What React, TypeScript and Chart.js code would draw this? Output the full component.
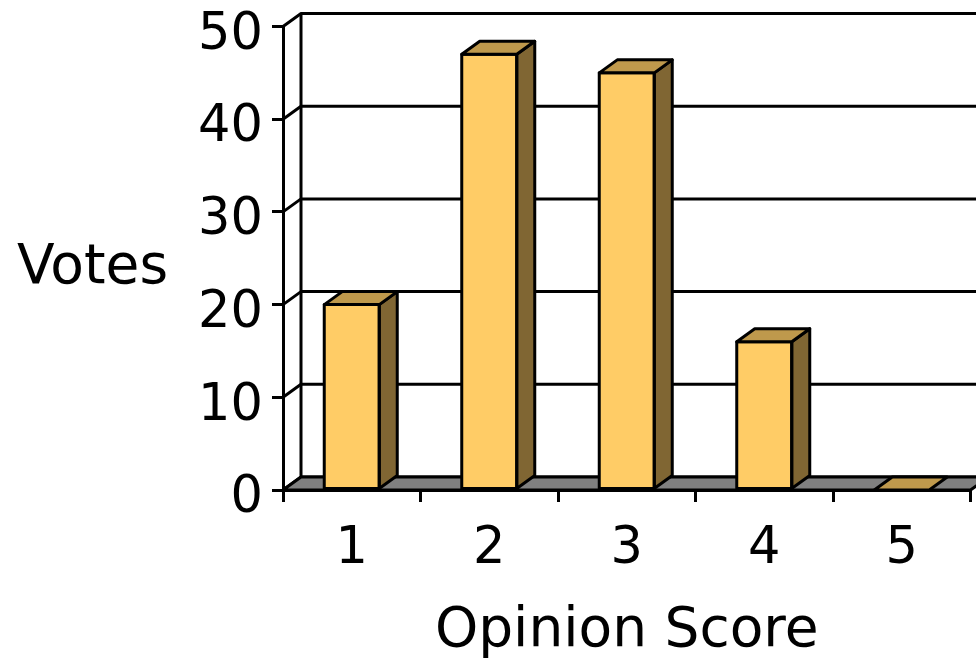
import { useEffect, useRef } from 'react';
import { Chart, registerables } from 'chart.js';
Chart.register(...registerables);

const categories = ['1', '2', '3', '4', '5'];
const votes = [20, 47, 45, 16, 0];
const yTicks = [0, 10, 20, 30, 40, 50];
const yTitle = 'Votes';
const xTitle = 'Opinion Score';

const FONT = 'DejaVu Sans';
const DX = 18;
const DY = -13;
const FRONT = '#FFCC66';
const TOP = '#BF994C';
const SIDE = '#806633';
const FLOOR = '#808080';

const threeD = {
  id: 'threeD',
  beforeDatasetsDraw(chart: any) {
    const { ctx, chartArea: a, scales } = chart;
    const y = scales.y;
    const base = y.getPixelForValue(0);
    ctx.save();
    ctx.lineWidth = 3;
    ctx.strokeStyle = '#000';
    ctx.lineJoin = 'round';
    ctx.lineCap = 'butt';
    for (const v of yTicks) {
      const py = y.getPixelForValue(v);
      ctx.beginPath();
      ctx.moveTo(a.left, py);
      ctx.lineTo(a.left + DX, py + DY);
      ctx.lineTo(a.right + DX + 20, py + DY);
      ctx.stroke();
    }
    ctx.beginPath();
    ctx.moveTo(a.left + DX, y.getPixelForValue(yTicks[yTicks.length - 1]) + DY);
    ctx.lineTo(a.left + DX, base + DY);
    ctx.stroke();
    // floor
    ctx.beginPath();
    ctx.moveTo(a.left, base);
    ctx.lineTo(a.left + DX, base + DY);
    ctx.lineTo(a.right + DX, base + DY);
    ctx.lineTo(a.right, base);
    ctx.closePath();
    ctx.fillStyle = FLOOR;
    ctx.fill();
    ctx.stroke();
    // y title (horizontal)
    ctx.fillStyle = '#000';
    ctx.font = `55px "${FONT}"`;
    ctx.textAlign = 'center';
    ctx.textBaseline = 'alphabetic';
    ctx.fillText(yTitle, 92.5, 283);
    ctx.restore();
  },
  afterDatasetsDraw(chart: any) {
    const { ctx } = chart;
    const meta = chart.getDatasetMeta(0);
    ctx.save();
    ctx.lineWidth = 3;
    ctx.strokeStyle = '#000';
    ctx.lineJoin = 'round';
    meta.data.forEach((bar: any) => {
      const { x, y, base, width } = bar.getProps(['x', 'y', 'base', 'width'], true);
      const l = x - width / 2;
      const r = x + width / 2;
      const top = Math.min(y, base);
      // side
      if (base - top > 0.5) {
        ctx.beginPath();
        ctx.moveTo(r, top);
        ctx.lineTo(r + DX, top + DY);
        ctx.lineTo(r + DX, base + DY);
        ctx.lineTo(r, base);
        ctx.closePath();
        ctx.fillStyle = SIDE;
        ctx.fill();
        ctx.stroke();
        ctx.strokeRect(l, top, width, base - top);
      }
      // top
      ctx.beginPath();
      ctx.moveTo(l, top);
      ctx.lineTo(l + DX, top + DY);
      ctx.lineTo(r + DX, top + DY);
      ctx.lineTo(r, top);
      ctx.closePath();
      ctx.fillStyle = TOP;
      ctx.fill();
      ctx.stroke();
    });
    ctx.restore();
  },
};

export default function App() {
  const ref = useRef<HTMLCanvasElement>(null);
  useEffect(() => {
    const chart = new Chart(ref.current!, {
      type: 'bar',
      data: {
        labels: categories,
        datasets: [
          {
            label: yTitle,
            data: votes,
            backgroundColor: FRONT,
            borderWidth: 0,
            barPercentage: 0.4,
            categoryPercentage: 1,
          },
        ],
      },
      options: {
        animation: false,
        responsive: true,
        maintainAspectRatio: false,
        layout: { padding: { top: 26.5, right: 5.5, left: 0, bottom: 0 } },
        plugins: { legend: { display: false }, tooltip: { enabled: false }, title: { display: false } },
        scales: {
          x: {
            type: 'category',
            offset: true,
            grid: { display: true, offset: true, drawOnChartArea: false, drawTicks: true, tickLength: 12, color: '#000', lineWidth: 3 },
            border: { display: true, color: '#000', width: 3 },
            ticks: { font: { family: FONT, size: 51 }, color: '#000', padding: 17, maxRotation: 0, autoSkip: false },
            title: { display: true, text: xTitle, font: { family: FONT, size: 55 }, color: '#000', padding: { top: 0, bottom: 0 } },
            afterFit: (s: any) => {
              s.height = 175;
              s.paddingLeft = 0;
              s.paddingRight = 0;
            },
          },
          y: {
            min: 0,
            max: 50,
            ticks: { stepSize: 10, font: { family: FONT, size: 51 }, color: '#000', padding: 9, labelOffset: 9 },
            grid: { display: true, drawOnChartArea: false, drawTicks: true, tickLength: 11, color: '#000', lineWidth: 3 },
            border: { display: true, color: '#000', width: 3 },
            afterFit: (s: any) => {
              s.width = 283;
              s.paddingTop = 0;
              s.paddingBottom = 0;
            },
          },
        },
      },
      plugins: [threeD],
    });
    return () => chart.destroy();
  }, []);
  return (
    <div style={{ position: 'fixed', left: 0, top: 0, width: 976, height: 665, background: '#fff' }}>
      <canvas ref={ref} />
    </div>
  );
}
